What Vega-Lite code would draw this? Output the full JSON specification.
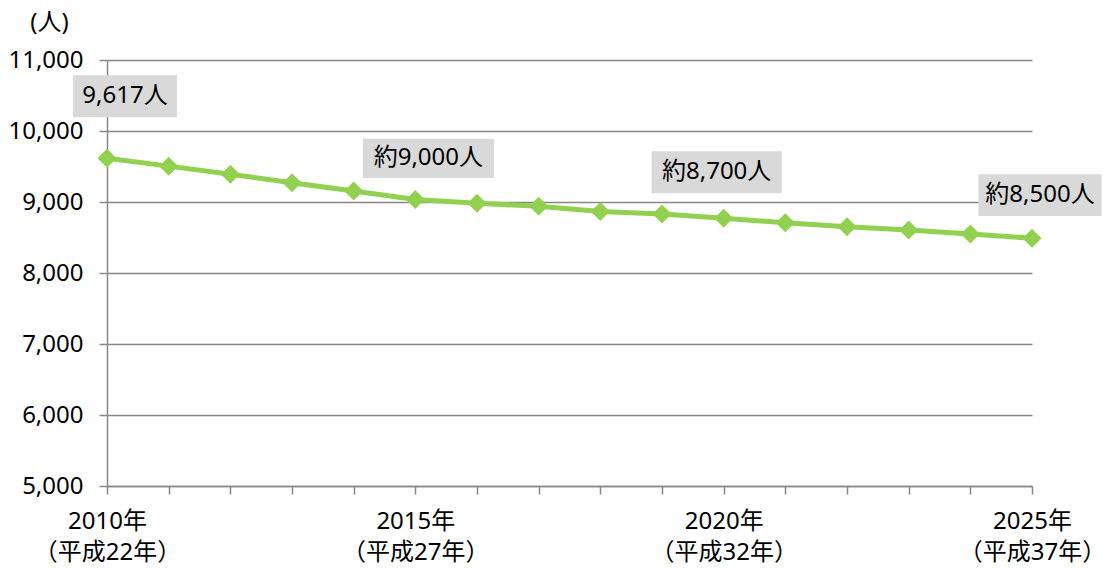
{
  "$schema": "https://vega.github.io/schema/vega-lite/v6.json",
  "width": 925,
  "height": 426,
  "autosize": "none",
  "padding": {"left": 107, "top": 60, "right": 74, "bottom": 82},
  "background": "white",
  "config": {
    "view": {"stroke": null},
    "font": "Noto Sans, Noto Sans CJK JP",
    "axis": {
      "labelFont": "Noto Sans, Noto Sans CJK JP",
      "titleFont": "Noto Sans, Noto Sans CJK JP",
      "labelColor": "#000000",
      "titleColor": "#000000",
      "domainColor": "#878787",
      "tickColor": "#878787",
      "gridColor": "#878787",
      "domainWidth": 1.5,
      "tickWidth": 1.5,
      "gridWidth": 1.5,
      "tickSize": 8
    }
  },
  "data": {
    "values": [
      {"year": 2010, "population": 9617, "label": "9,617人"},
      {"year": 2011, "population": 9505},
      {"year": 2012, "population": 9390},
      {"year": 2013, "population": 9272},
      {"year": 2014, "population": 9155},
      {"year": 2015, "population": 9036, "label": "約9,000人"},
      {"year": 2016, "population": 8982},
      {"year": 2017, "population": 8940},
      {"year": 2018, "population": 8865},
      {"year": 2019, "population": 8830},
      {"year": 2020, "population": 8770, "label": "約8,700人"},
      {"year": 2021, "population": 8708},
      {"year": 2022, "population": 8652},
      {"year": 2023, "population": 8605},
      {"year": 2024, "population": 8549},
      {"year": 2025, "population": 8490, "label": "約8,500人"}
    ]
  },
  "encoding": {
    "x": {
      "field": "year",
      "type": "quantitative",
      "scale": {"domain": [2010, 2025], "nice": false, "zero": false},
      "axis": {
        "title": null,
        "values": [2010, 2011, 2012, 2013, 2014, 2015, 2016, 2017, 2018, 2019, 2020, 2021, 2022, 2023, 2024, 2025],
        "grid": false,
        "labelExpr": "datum.value % 5 == 0 ? [datum.value + '年', '（平成' + (datum.value - 1988) + '年）'] : ''",
        "labelFontSize": 24,
        "labelLineHeight": 31,
        "labelPadding": 15,
        "labelOverlap": false,
        "labelFlush": false,
        "labelBound": false
      }
    },
    "y": {
      "field": "population",
      "type": "quantitative",
      "scale": {"domain": [5000, 11000], "nice": false, "zero": false},
      "axis": {
        "title": "(人)",
        "titleAngle": 0,
        "titleX": -58,
        "titleY": -38,
        "titleAlign": "center",
        "titleBaseline": "middle",
        "titleFontWeight": "normal",
        "titleFontSize": 24,
        "values": [5000, 6000, 7000, 8000, 9000, 10000, 11000],
        "format": ",d",
        "labelFontSize": 24,
        "labelPadding": 16,
        "grid": true
      }
    }
  },
  "layer": [
    {
      "mark": {"type": "line", "color": "#92D050", "strokeWidth": 5}
    },
    {
      "mark": {"type": "point", "shape": "diamond", "filled": true, "color": "#92D050", "opacity": 1, "size": 360}
    },
    {
      "transform": [{"filter": "datum.year == 2010"}],
      "layer": [
        {"mark": {"type": "point", "shape": "M-1,-0.404H1V0.404H-1Z", "filled": true, "color": "#D9D9D9", "opacity": 1, "size": 10816, "xOffset": 18, "yOffset": -62}},
        {"mark": {"type": "text", "fontSize": 24, "color": "#000000", "dx": 18, "dy": -62, "align": "center", "baseline": "middle"}, "encoding": {"text": {"field": "label"}}}
      ]
    },
    {
      "transform": [{"filter": "datum.year == 2015"}],
      "layer": [
        {"mark": {"type": "point", "shape": "M-1,-0.3H1V0.3H-1Z", "filled": true, "color": "#D9D9D9", "opacity": 1, "size": 17161, "xOffset": 13, "yOffset": -41}},
        {"mark": {"type": "text", "fontSize": 24, "color": "#000000", "dx": 13, "dy": -41, "align": "center", "baseline": "middle"}, "encoding": {"text": {"field": "label"}}}
      ]
    },
    {
      "transform": [{"filter": "datum.year == 2020"}],
      "layer": [
        {"mark": {"type": "point", "shape": "M-1,-0.323H1V0.323H-1Z", "filled": true, "color": "#D9D9D9", "opacity": 1, "size": 16900, "xOffset": -7, "yOffset": -46}},
        {"mark": {"type": "text", "fontSize": 24, "color": "#000000", "dx": -7, "dy": -46, "align": "center", "baseline": "middle"}, "encoding": {"text": {"field": "label"}}}
      ]
    },
    {
      "transform": [{"filter": "datum.year == 2025"}],
      "layer": [
        {"mark": {"type": "point", "shape": "M-1,-0.34H1V0.34H-1Z", "filled": true, "color": "#D9D9D9", "opacity": 1, "size": 15129, "xOffset": 8, "yOffset": -43}},
        {"mark": {"type": "text", "fontSize": 24, "color": "#000000", "dx": 8, "dy": -43, "align": "center", "baseline": "middle"}, "encoding": {"text": {"field": "label"}}}
      ]
    }
  ]
}
